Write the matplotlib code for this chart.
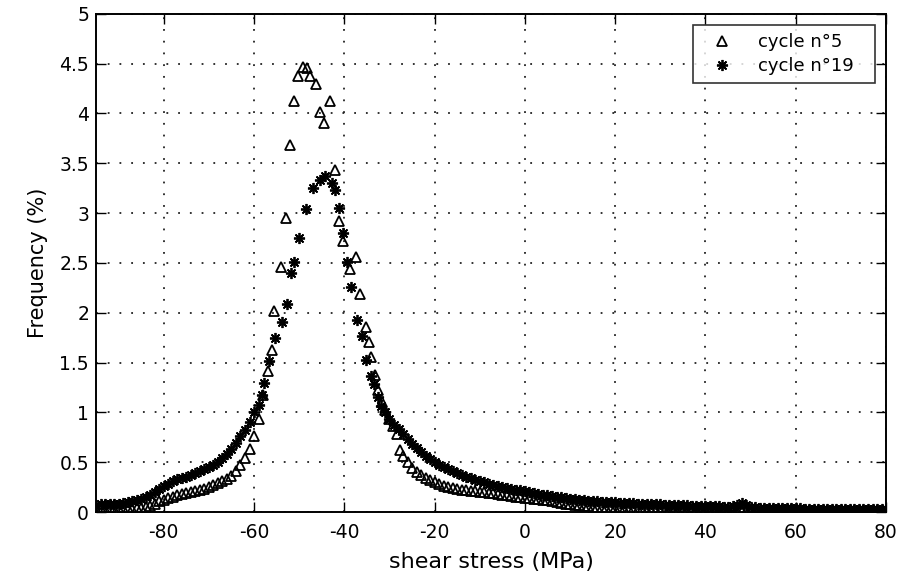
import matplotlib
matplotlib.use("Agg")
import matplotlib.pyplot as plt

plt.rcParams['font.family'] = ['DejaVu Sans']
plt.rcParams['axes.unicode_minus'] = False

# cycle n°5 (triangles): left tail on 1 MPa bins, peak, right tail on 1 MPa bins
x_c5_left = list(range(-95, -55))            # -95 .. -56
y_c5_left = [0.03, 0.03, 0.03, 0.04, 0.03,   # -95 .. -91
             0.03, 0.04, 0.04, 0.03, 0.04,   # -90 .. -86
             0.04, 0.05, 0.06, 0.08, 0.11,   # -85 .. -81
             0.12, 0.14, 0.15, 0.17, 0.18,   # -80 .. -76
             0.19, 0.20, 0.21, 0.22, 0.23,   # -75 .. -71
             0.25, 0.27, 0.29, 0.31, 0.33,   # -70 .. -66
             0.36, 0.41, 0.47, 0.54, 0.63,   # -65 .. -61
             0.76, 0.93, 1.17, 1.42, 1.63]   # -60 .. -56
x_c5_peak = [-55.5, -54, -53, -52, -51.2, -50.3, -49.2, -48.2, -47.5, -46.2,
             -45.3, -44.6, -43.1, -42, -41.2, -40.2, -38.8, -37.5, -36.5, -35.2,
             -34.6, -34, -33.3, -32.5, -31.7, -31, -30, -29.2, -28.4, -27.7, -27]
y_c5_peak = [2.02, 2.46, 2.95, 3.68, 4.12, 4.38, 4.47, 4.46, 4.38, 4.30,
             4.01, 3.90, 4.12, 3.43, 2.92, 2.72, 2.44, 2.56, 2.19, 1.86,
             1.71, 1.56, 1.37, 1.22, 1.10, 1.02, 0.93, 0.86, 0.78, 0.62, 0.56]
x_c5_right = list(range(-26, 81))            # -26 .. 80
y_c5_right = [0.50, 0.44, 0.40, 0.37, 0.34, 0.32, 0.30, 0.28, 0.26, 0.25,  # -26 .. -17
              0.24, 0.23, 0.22, 0.22, 0.21, 0.21, 0.20, 0.20, 0.19, 0.19,  # -16 .. -7
              0.18, 0.17, 0.17, 0.16, 0.15, 0.15, 0.14, 0.14, 0.13, 0.13,  # -6 .. 3
              0.12, 0.12, 0.11, 0.10, 0.09, 0.08, 0.08, 0.07, 0.07, 0.06,  # 4 .. 13
              0.06, 0.05, 0.05, 0.05, 0.04, 0.04, 0.04, 0.04, 0.03, 0.03,  # 14 .. 23
              0.03, 0.03, 0.03, 0.02, 0.02, 0.02, 0.02, 0.02, 0.02, 0.02,  # 24 .. 33
              0.02, 0.02, 0.02, 0.02, 0.02, 0.02, 0.02, 0.01, 0.01, 0.01,  # 34 .. 43
              0.02, 0.01, 0.01, 0.01, 0.01, 0.01, 0.01, 0.01, 0.01, 0.01,  # 44 .. 53
              0.01, 0.01, 0.01, 0.01, 0.01, 0.01, 0.01, 0.01, 0.01, 0.01,  # 54 .. 63
              0.01, 0.01, 0.01, 0.01, 0.01, 0.01, 0.01, 0.01, 0.01, 0.01,  # 64 .. 73
              0.01, 0.01, 0.01, 0.01, 0.01, 0.01, 0.01]                    # 74 .. 80

# cycle n°19 (asterisks)
x_c19_left = list(range(-95, -58))           # -95 .. -59
y_c19_left = [0.07, 0.08, 0.08, 0.08, 0.08,  # -95 .. -91
              0.08, 0.09, 0.10, 0.11, 0.12,  # -90 .. -86
              0.13, 0.15, 0.17, 0.20, 0.23,  # -85 .. -81
              0.26, 0.28, 0.31, 0.33, 0.34,  # -80 .. -76
              0.35, 0.37, 0.39, 0.41, 0.43,  # -75 .. -71
              0.45, 0.47, 0.50, 0.54, 0.58,  # -70 .. -66
              0.63, 0.69, 0.76, 0.82, 0.90,  # -65 .. -61
              1.00, 1.07]                    # -60 .. -59
x_c19_peak = [-58.3, -57.8, -56.6, -55.3, -53.8, -52.7, -51.8, -51.2, -50.1,
              -48.6, -46.9, -45.3, -44.2, -42.7, -42, -41.2, -40.4, -39.3,
              -38.6, -37.1, -36, -35.2, -34.2, -33.5, -32.6, -31.8, -31]
y_c19_peak = [1.17, 1.29, 1.52, 1.75, 1.91, 2.09, 2.40, 2.51, 2.75,
              3.04, 3.25, 3.33, 3.37, 3.30, 3.23, 3.05, 2.80, 2.51,
              2.26, 1.93, 1.77, 1.53, 1.36, 1.28, 1.15, 1.06, 1.00]
x_c19_right = list(range(-30, 81))           # -30 .. 80
y_c19_right = [0.93, 0.87, 0.83, 0.78, 0.73, 0.68, 0.64, 0.60, 0.56, 0.53,  # -30 .. -21
               0.50, 0.47, 0.45, 0.43, 0.41, 0.39, 0.37, 0.35, 0.34, 0.32,  # -20 .. -11
               0.31, 0.30, 0.28, 0.27, 0.26, 0.25, 0.24, 0.23, 0.22, 0.22,  # -10 .. -1
               0.21, 0.20, 0.19, 0.18, 0.17, 0.17, 0.16, 0.15, 0.15, 0.14,  # 0 .. 9
               0.13, 0.13, 0.12, 0.12, 0.11, 0.11, 0.11, 0.10, 0.10, 0.10,  # 10 .. 19
               0.10, 0.09, 0.09, 0.09, 0.09, 0.08, 0.08, 0.08, 0.08, 0.08,  # 20 .. 29
               0.08, 0.07, 0.07, 0.07, 0.07, 0.07, 0.07, 0.06, 0.06, 0.06,  # 30 .. 39
               0.06, 0.06, 0.06, 0.06, 0.05, 0.05, 0.06, 0.07, 0.09, 0.07,  # 40 .. 49
               0.05, 0.05, 0.04, 0.04, 0.04, 0.04, 0.04, 0.04, 0.04, 0.04,  # 50 .. 59
               0.04, 0.04, 0.03, 0.03, 0.03, 0.03, 0.03, 0.03, 0.03, 0.03,  # 60 .. 69
               0.03, 0.03, 0.03, 0.03, 0.03, 0.03, 0.03, 0.03, 0.03, 0.03,  # 70 .. 79
               0.03]                                                        # 80

x_c5 = x_c5_left + x_c5_peak + x_c5_right
y_c5 = y_c5_left + y_c5_peak + y_c5_right
x_c19 = x_c19_left + x_c19_peak + x_c19_right
y_c19 = y_c19_left + y_c19_peak + y_c19_right

x_ticks = [-80, -60, -40, -20, 0, 20, 40, 60, 80]
y_ticks = [0, 0.5, 1, 1.5, 2, 2.5, 3, 3.5, 4, 4.5, 5]
y_tick_labels = ['0', '0.5', '1', '1.5', '2', '2.5', '3', '3.5', '4', '4.5', '5']

fig = plt.figure(figsize=(9.06, 5.74), dpi=100)
ax = fig.add_axes([0.106, 0.108, 0.872, 0.868])

asterisk = (8, 2, 0)
ax.plot(x_c5, y_c5, linestyle='none', marker='^', markersize=7,
        markerfacecolor='none', markeredgecolor='black', markeredgewidth=1.3,
        label='cycle n°5')
ax.plot(x_c19, y_c19, linestyle='none', marker=asterisk, markersize=8,
        color='black', markeredgewidth=1.3, label='cycle n°19')

ax.set_xlim(-95, 80)
ax.set_ylim(0, 5)
ax.set_xticks(x_ticks)
ax.set_yticks(y_ticks)
ax.set_yticklabels(y_tick_labels)

ax.grid(True, color='#222222', linestyle=(0, (1.0, 5.5)), linewidth=1.3)
ax.tick_params(direction='in', length=7, width=1.0, top=True, right=True,
               labelsize=13.5, colors='black')
ax.tick_params(axis='x', pad=8)
ax.tick_params(axis='y', pad=5)
for s in ax.spines.values():
    s.set_linewidth(1.4)
    s.set_color('black')

ax.set_xlabel('shear stress (MPa)', fontsize=16, labelpad=7)
ax.set_ylabel('Frequency (%)', fontsize=15, labelpad=8)

leg = ax.legend(loc='upper left', bbox_to_anchor=(0.7557, 0.5, 0.2304, 0.478),
                mode='expand', borderaxespad=0, fontsize=13,
                frameon=True, fancybox=False, edgecolor='black',
                handlelength=2.3, handletextpad=0.83, borderpad=0.45,
                labelspacing=0.35)
leg.get_frame().set_linewidth(1.2)

fig.savefig('out.png', dpi=100)
